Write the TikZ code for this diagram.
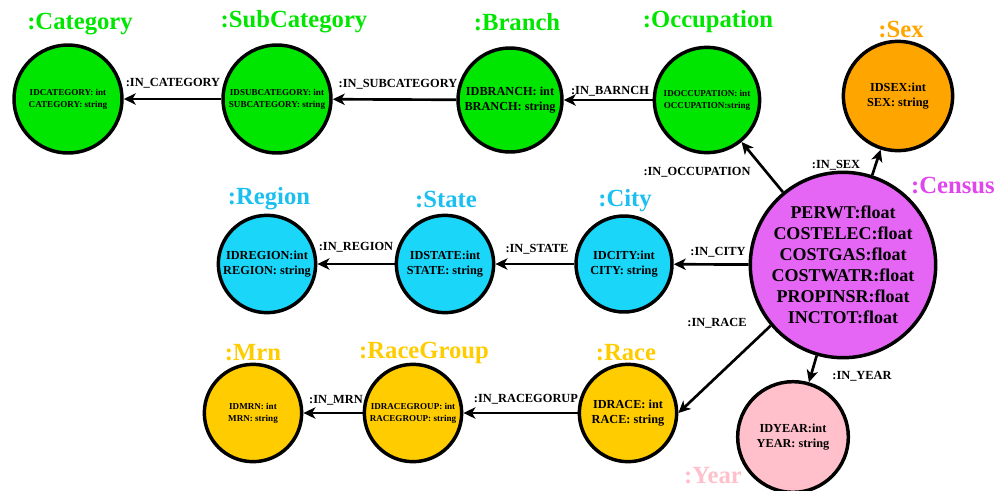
\documentclass[tikz,border=0pt]{standalone}
\usepackage{fontspec}
\setmainfont{Liberation Serif}
\usetikzlibrary{arrows.meta}
\definecolor{nodegreen}{HTML}{00E600}
\definecolor{nodecyan}{HTML}{1AD6F8}
\definecolor{titlecyan}{HTML}{1CC0F0}
\definecolor{nodemagenta}{HTML}{E566F5}
\definecolor{titlemagenta}{HTML}{E045EE}
\definecolor{nodeorange}{HTML}{FFA500}
\definecolor{nodeyellow}{HTML}{FFCC00}
\definecolor{nodepink}{HTML}{FFC0CB}
\begin{document}
\begin{tikzpicture}[x=0.75pt,y=-0.75pt,
  entity/.style={circle,draw=black,line width=2.6pt,inner sep=0pt,align=center},
  smalltxt/.style={font=\bfseries\fontsize{6.8}{9}\selectfont},
  midtxt/.style={font=\bfseries\fontsize{9.2}{11.5}\selectfont},
  bigtxt/.style={font=\bfseries\fontsize{13.5}{15.8}\selectfont},
  title/.style={font=\bfseries\fontsize{18.5}{22}\selectfont},
  rel/.style={-{Stealth[length=9pt,width=8.5pt,inset=2.5pt]},line width=2pt},
  rlabel/.style={font=\bfseries\fontsize{9.3}{11}\selectfont,inner sep=0pt}]
\useasboundingbox (0,0) rectangle (999,490);

% top row: classification chain
\node[entity,smalltxt,fill=nodegreen,minimum size=81pt] (cat) at (68,99) {IDCATEGORY: int\\CATEGORY: string};
\node[entity,smalltxt,fill=nodegreen,minimum size=81pt] (sub) at (277,99) {IDSUBCATEGORY: int\\SUBCATEGORY: string};
\node[entity,midtxt,fill=nodegreen,minimum size=78pt] (branch) at (510,100) {IDBRANCH: int\\BRANCH: string};
\node[entity,smalltxt,fill=nodegreen,minimum size=79pt] (occ) at (707,100) {IDOCCUPATION: int\\OCCUPATION:string};
\node[entity,midtxt,fill=nodeorange,minimum size=82pt] (sex) at (898,96) {IDSEX:int\\SEX: string};

% central entity
\node[entity,bigtxt,fill=nodemagenta,minimum size=128pt] (census) at (843,265)
  {PERWT:float\\COSTELEC:float\\COSTGAS:float\\COSTWATR:float\\PROPINSR:float\\INCTOT:float};

% middle row: geography chain
\node[entity,midtxt,fill=nodecyan,minimum size=72pt] (city) at (624,264) {IDCITY:int\\CITY: string};
\node[entity,midtxt,fill=nodecyan,minimum size=73pt] (state) at (445,264) {IDSTATE:int\\STATE: string};
\node[entity,midtxt,fill=nodecyan,minimum size=73pt] (region) at (267,264) {IDREGION:int\\REGION: string};

% bottom row: race chain and year
\node[entity,midtxt,fill=nodeyellow,minimum size=73pt] (race) at (628,413) {IDRACE: int\\RACE: string};
\node[entity,smalltxt,fill=nodeyellow,minimum size=73pt] (rgroup) at (413,413) {IDRACEGROUP: int\\RACEGROUP: string};
\node[entity,smalltxt,fill=nodeyellow,minimum size=73pt] (mrn) at (253,413) {IDMRN: int\\MRN: string};
\node[entity,midtxt,fill=nodepink,minimum size=83pt] (year) at (793,437) {IDYEAR:int\\YEAR: string};

% titles
\node[title,text=nodegreen] (tcat) at (80,24) {:Category};
\node[title,text=nodegreen] (tsub) at (294,22) {:SubCategory};
\node[title,text=nodegreen] (tbranch) at (517,22) {:Branch};
\node[title,text=nodegreen] (tocc) at (708,22) {:Occupation};
\node[title,text=nodeorange] (tsex) at (901,30) {:Sex};
\node[title,text=titlemagenta] (tcensus) at (953,186) {:Census};
\node[title,text=titlecyan] (tcity) at (625,201) {:City};
\node[title,text=titlecyan] (tstate) at (446,200) {:State};
\node[title,text=titlecyan] (tregion) at (269,199) {:Region};
\node[title,text=nodeyellow] (trace) at (626,353) {:Race};
\node[title,text=nodeyellow] (trgroup) at (424,353) {:RaceGroup};
\node[title,text=nodeyellow] (tmrn) at (253,353) {:Mrn};
\node[title,text=nodepink] (tyear) at (713,476) {:Year};

% relationships
\draw[rel] (sub) -- (cat);
\draw[rel] (branch) -- (sub);
\draw[rel] (occ) -- (branch);
\draw[rel] (census) -- (occ);
\draw[rel] (census) -- (sex);
\draw[rel] (census) -- (city);
\draw[rel] (city) -- (state);
\draw[rel] (state) -- (region);
\draw[rel] (census.220.5) -- (race.east);
\draw[rel] (census) -- (year);
\draw[rel] (race) -- (rgroup);
\draw[rel] (rgroup) -- (mrn);

% relationship labels
\node[rlabel] (l1) at (173,83) {:IN\_CATEGORY};
\node[rlabel] (l2) at (398,84) {:IN\_SUBCATEGORY};
\node[rlabel] (l3) at (610,91) {:IN\_BARNCH};
\node[rlabel] (l4) at (697,172) {:IN\_OCCUPATION};
\node[rlabel] (l5) at (836,165) {:IN\_SEX};
\node[rlabel] (l6) at (718,252) {:IN\_CITY};
\node[rlabel] (l7) at (537,249) {:IN\_STATE};
\node[rlabel] (l8) at (356,247) {:IN\_REGION};
\node[rlabel] (l9) at (717,323) {:IN\_RACE};
\node[rlabel] (l10) at (862,376) {:IN\_YEAR};
\node[rlabel] (l11) at (526,399) {:IN\_RACEGORUP};
\node[rlabel] (l12) at (336,400) {:IN\_MRN};
\end{tikzpicture}
\end{document}
